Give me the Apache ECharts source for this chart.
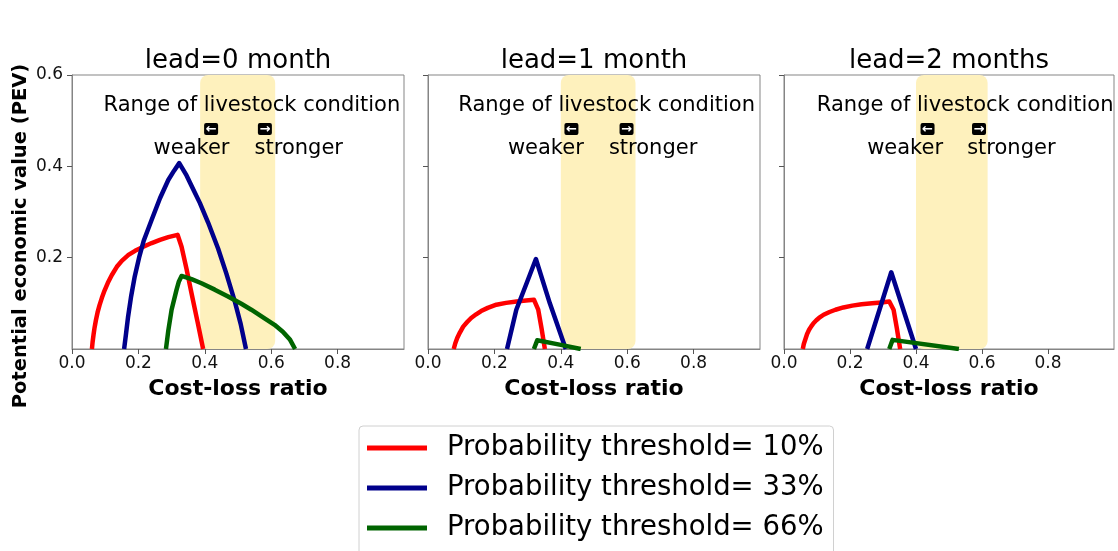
<!DOCTYPE html>
<html>
<head>
<meta charset="utf-8">
<script src="https://cdn.jsdelivr.net/npm/echarts@6/dist/echarts.min.js"></script>
<style>
html,body{margin:0;padding:0;background:#fff;}
#chart{width:1118px;height:551px;}
</style>
</head>
<body>
<div id="chart"></div>
<script>
// ---------------- data ----------------
const panelTitles = ['lead=0 month', 'lead=1 month', 'lead=2 months'];
const seriesNames = ['Probability threshold= 10%', 'Probability threshold= 33%', 'Probability threshold= 66%'];
const seriesColors = ['#ff0000', '#00008b', '#006400'];

const xTickValues = [0, 0.2, 0.4, 0.6, 0.8];
const xTickLabels = ['0.0', '0.2', '0.4', '0.6', '0.8'];
const yTickValues = [0.2, 0.4, 0.6];
const yTickLabels = ['0.2', '0.4', '0.6'];

// lead = 0 month  [cost-loss ratio, PEV]
const red0 = [[0.060,0],[0.062,0.015],[0.065,0.032],[0.068,0.047],[0.072,0.063],[0.077,0.080],[0.083,0.096],[0.090,0.112],[0.098,0.128],[0.108,0.145],[0.120,0.162],[0.135,0.180],[0.150,0.193],[0.170,0.206],[0.190,0.215],[0.215,0.224],[0.240,0.232],[0.265,0.239],[0.290,0.245],[0.318,0.250],[0.330,0.224],[0.345,0.175],[0.360,0.122],[0.378,0.060],[0.395,0]];
const blue0 = [[0.157,0],[0.163,0.035],[0.169,0.071],[0.178,0.115],[0.189,0.159],[0.202,0.200],[0.216,0.237],[0.240,0.283],[0.265,0.330],[0.290,0.370],[0.307,0.390],[0.323,0.407],[0.345,0.380],[0.365,0.350],[0.385,0.320],[0.410,0.277],[0.440,0.220],[0.465,0.165],[0.490,0.105],[0.508,0.055],[0.524,0]];
const green0 = [[0.283,0],[0.290,0.040],[0.300,0.086],[0.315,0.130],[0.322,0.148],[0.330,0.160],[0.360,0.153],[0.390,0.144],[0.430,0.130],[0.470,0.115],[0.510,0.099],[0.540,0.086],[0.580,0.067],[0.610,0.053],[0.635,0.038],[0.657,0.020],[0.672,0]];

// lead = 1 month
const red1 = [[0.0775,0],[0.082,0.012],[0.088,0.024],[0.096,0.036],[0.106,0.049],[0.118,0.059],[0.130,0.068],[0.145,0.076],[0.160,0.083],[0.180,0.090],[0.206,0.097],[0.235,0.101],[0.267,0.104],[0.295,0.106],[0.319,0.108],[0.332,0.086],[0.342,0.045],[0.352,0]];
const blue1 = [[0.238,0],[0.266,0.086],[0.297,0.144],[0.325,0.197],[0.367,0.100],[0.415,0]];
const green1 = [[0.319,0],[0.329,0.019],[0.400,0.009],[0.460,0]];

// lead = 2 months
const red2 = [[0.057,0],[0.060,0.011],[0.065,0.022],[0.070,0.033],[0.076,0.042],[0.083,0.050],[0.090,0.057],[0.098,0.063],[0.106,0.068],[0.120,0.075],[0.138,0.081],[0.156,0.086],[0.180,0.091],[0.207,0.095],[0.235,0.098],[0.267,0.100],[0.295,0.102],[0.319,0.104],[0.332,0.086],[0.342,0.045],[0.352,0]];
const blue2 = [[0.252,0],[0.325,0.168],[0.400,0]];
const green2 = [[0.319,0],[0.329,0.020],[0.530,0]];

const panelData = [[red0, blue0, green0], [red1, blue1, green1], [red2, blue2, green2]];

// range of livestock condition (shaded span) per panel
const spanStart = [0.386, 0.400, 0.400];
const spanEnd = [0.612, 0.625, 0.617];

// annotation anchor positions (data coordinates) per panel
const rangeText = 'Range of livestock condition';
const rangeX = [0.542, 0.538, 0.549];
const rangeY = 0.534;
const arrowLeftX = [0.419, 0.432, 0.435];
const arrowRightX = [0.581, 0.598, 0.591];
const arrowY = 0.482;
const weakerX = [0.360, 0.355, 0.367];
const strongerX = [0.683, 0.678, 0.689];
const wordY = 0.440;

const yAxisTitle = 'Potential economic value (PEV)';
const xAxisTitle = 'Cost-loss ratio';

// ---------------- layout ----------------
const FONT = 'DejaVu Sans';
const gridLefts = [72, 428, 784];
const gridWidths = [332, 332, 330];
const gridTop = 75, gridHeight = 274;

const grids = [], xAxes = [], yAxes = [], titles = [], series = [];

for (let i = 0; i < 3; i++) {
  grids.push({left: gridLefts[i], top: gridTop, width: gridWidths[i], height: gridHeight,
    show: true, borderColor: '#858585', borderWidth: 1, backgroundColor: 'transparent'});
  xAxes.push({
    type: 'value', gridIndex: i, min: 0, max: 1,
    name: xAxisTitle, nameLocation: 'middle', nameGap: 29,
    nameTextStyle: {fontFamily: FONT, fontWeight: 'bold', fontSize: 22, color: '#000'},
    axisLine: {show: true, lineStyle: {color: '#858585', width: 1}},
    axisTick: {show: true, length: 5, lineStyle: {color: '#555'}, customValues: xTickValues},
    axisLabel: {show: true, fontFamily: FONT, fontSize: 17, color: '#111', margin: 6,
      customValues: xTickValues,
      formatter: v => { const k = xTickValues.findIndex(t => Math.abs(t - v) < 1e-6); return k >= 0 ? xTickLabels[k] : ''; }},
    splitLine: {show: false}
  });
  yAxes.push({
    type: 'value', gridIndex: i, min: 0, max: 0.6,
    axisLine: {show: true, lineStyle: {color: '#858585', width: 1}},
    axisTick: {show: true, length: 5, lineStyle: {color: '#555'}, customValues: yTickValues},
    axisLabel: {show: i === 0, fontFamily: FONT, fontSize: 17, color: '#111', margin: 9,
      customValues: yTickValues,
      formatter: v => { const k = yTickValues.findIndex(t => Math.abs(t - v) < 1e-6); return k >= 0 ? yTickLabels[k] : ''; }},
    splitLine: {show: false}
  });
  titles.push({
    text: panelTitles[i], left: gridLefts[i] + gridWidths[i] / 2, top: 48, textAlign: 'center', padding: 0,
    textStyle: {fontFamily: FONT, fontWeight: 'normal', fontSize: 26, color: '#000'}
  });

  // shaded span
  series.push({
    type: 'custom', xAxisIndex: i, yAxisIndex: i, silent: true, z: 1,
    data: [[spanStart[i], spanEnd[i]]],
    renderItem: (params, api) => {
      const p0 = api.coord([api.value(0), 0.6]);
      const p1 = api.coord([api.value(1), 0]);
      return {type: 'rect', shape: {x: p0[0], y: p0[1], width: p1[0] - p0[0], height: p1[1] - p0[1], r: 8},
        style: {fill: '#fef1bd'}};
    }
  });

  // curves
  for (let s = 0; s < 3; s++) {
    series.push({
      type: 'line', name: seriesNames[s], xAxisIndex: i, yAxisIndex: i, z: 3,
      data: panelData[i][s], showSymbol: false, symbol: 'none', smooth: false,
      lineStyle: {color: seriesColors[s], width: 4.5, cap: 'butt', join: 'round'},
      itemStyle: {color: seriesColors[s]}
    });
  }

  // text annotations
  series.push({
    type: 'custom', xAxisIndex: i, yAxisIndex: i, silent: true, z: 5,
    data: [[rangeX[i], rangeY, rangeText], [weakerX[i], wordY, 'weaker'], [strongerX[i], wordY, 'stronger']],
    renderItem: (params, api) => {
      const p = api.coord([api.value(0), api.value(1)]);
      return {type: 'text', x: p[0], y: p[1],
        style: {text: option.series[params.seriesIndex].data[params.dataIndex][2],
          fill: '#000', font: '21px "DejaVu Sans"', align: 'center', verticalAlign: 'middle'}};
    }
  });
  // arrow boxes
  series.push({
    type: 'custom', xAxisIndex: i, yAxisIndex: i, silent: true, z: 5,
    data: [[arrowLeftX[i], arrowY, '\u2190'], [arrowRightX[i], arrowY, '\u2192']],
    renderItem: (params, api) => {
      const p = api.coord([api.value(0), api.value(1)]);
      return {type: 'group', children: [
        {type: 'rect', shape: {x: p[0] - 7, y: p[1] - 6, width: 14, height: 12, r: 2}, style: {fill: '#000'}},
        {type: 'text', x: p[0], y: p[1] + 0.5,
          style: {text: option.series[params.seriesIndex].data[params.dataIndex][2],
            fill: '#fff', font: 'bold 13px "DejaVu Sans"', align: 'center', verticalAlign: 'middle'}}
      ]};
    }
  });
}

const option = {
  backgroundColor: '#fff',
  animation: false,
  title: titles,
  grid: grids,
  xAxis: xAxes,
  yAxis: yAxes,
  legend: {
    data: seriesNames, orient: 'vertical', left: 359, top: 426, height: 160,
    icon: 'rect', itemWidth: 60, itemHeight: 5, itemGap: 12,
    padding: [8, 10, 30, 8],
    borderColor: '#d0d0d0', borderWidth: 1, borderRadius: 4, backgroundColor: '#fff',
    textStyle: {fontFamily: FONT, fontSize: 27.5, color: '#000', lineHeight: 28, padding: [0, 0, 0, 15]},
    selectedMode: false
  },
  graphic: [{
    type: 'text', x: 21, y: 236, rotation: Math.PI / 2,
    style: {text: yAxisTitle, font: 'bold 19.5px "DejaVu Sans"', fill: '#000', align: 'center', verticalAlign: 'middle'}
  }],
  series: series
};

const chart = echarts.init(document.getElementById('chart'), null, {renderer: 'canvas'});
chart.setOption(option);
</script>
</body>
</html>
